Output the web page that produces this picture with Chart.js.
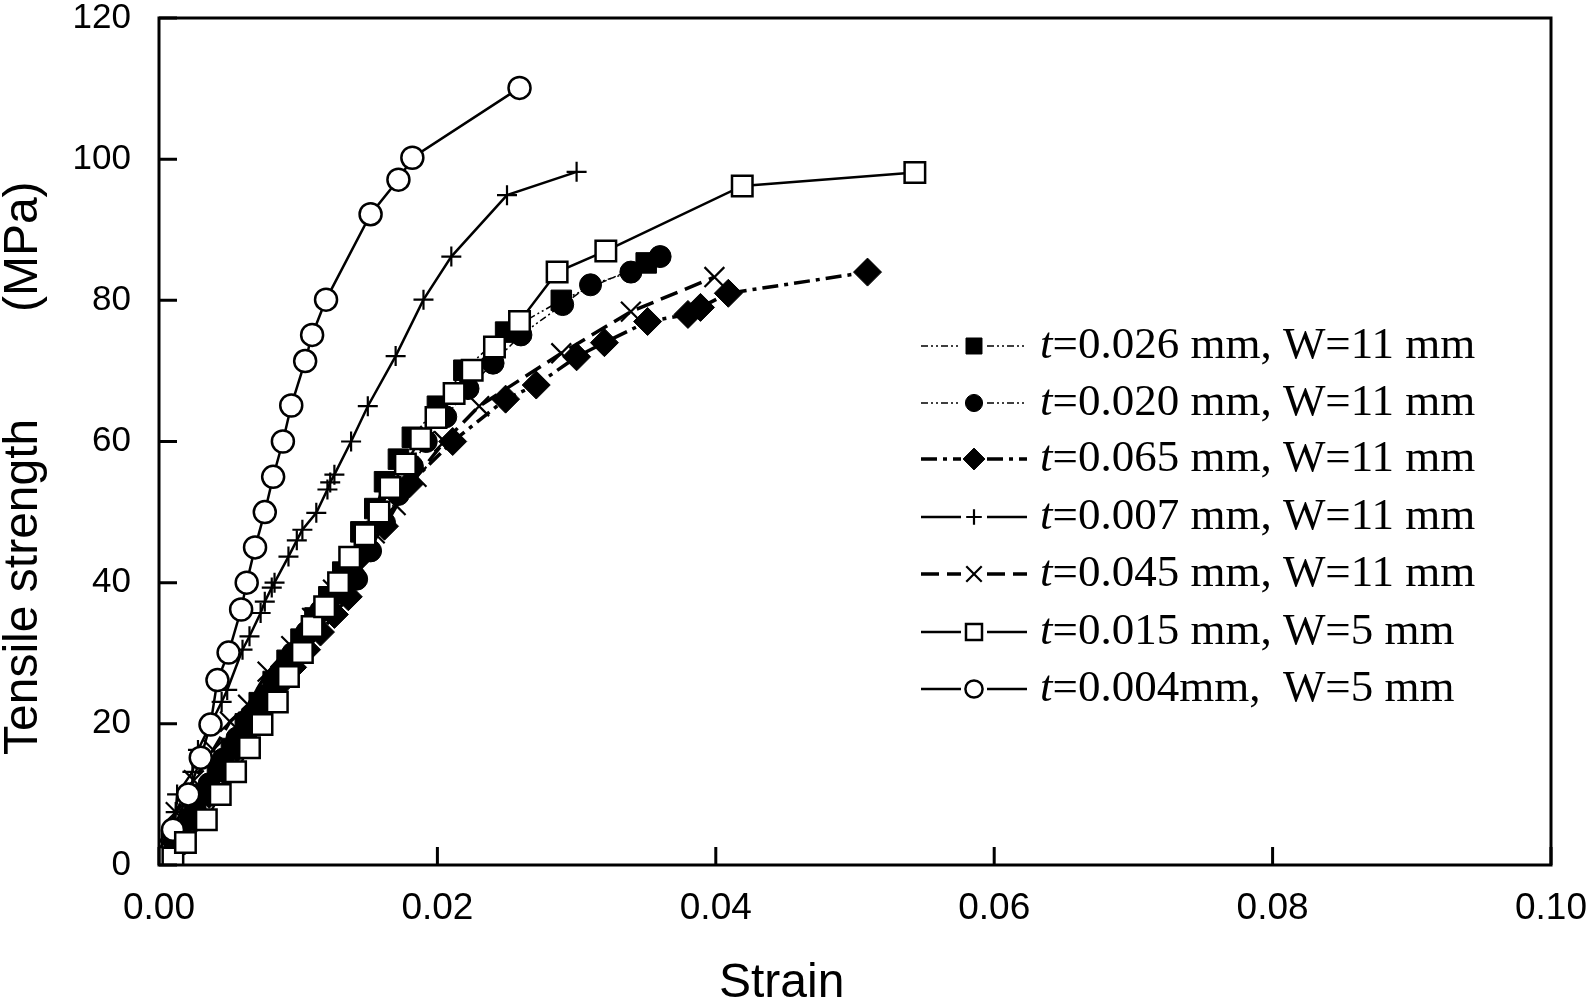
<!DOCTYPE html>
<html>
<head>
<meta charset="utf-8">
<script src="https://cdn.jsdelivr.net/npm/chart.js@4.4.1/dist/chart.umd.min.js"></script>
<style>
    html, body { margin: 0; padding: 0; background: #fff; }
    #wrap { width: 1587px; height: 1000px; }
</style>
</head>
<body>
<div id="wrap"><canvas id="chart" width="1587" height="1000"></canvas></div>
<script>
// legend text (after the italic "t")
const seriesLabels = [
    '=0.026 mm, W=11 mm',
    '=0.020 mm, W=11 mm',
    '=0.065 mm, W=11 mm',
    '=0.007 mm, W=11 mm',
    '=0.045 mm, W=11 mm',
    '=0.015 mm, W=5 mm',
    '=0.004mm,  W=5 mm'
];

// strain values and tensile strength (MPa)
const t026Strain = [0.0004, 0.0012, 0.0022, 0.0032, 0.0042, 0.0052, 0.0062, 0.0072, 0.0082, 0.0092, 0.0102, 0.0112, 0.0122, 0.0132, 0.0145, 0.0155, 0.0162, 0.0172, 0.0182, 0.0200, 0.0219, 0.0249, 0.0289, 0.0350];
const t026Stress = [0.5, 3, 6.5, 10, 13.3, 16.5, 20, 23, 26, 29, 32, 35, 38, 41.5, 47.2, 50.5, 54.3, 57.5, 60.6, 65, 70.1, 75.5, 80, 85.3];

const t020Strain = [0.0006, 0.0016, 0.0026, 0.0036, 0.0046, 0.0056, 0.0066, 0.0076, 0.0086, 0.0096, 0.0106, 0.0116, 0.0128, 0.0142, 0.0152, 0.0162, 0.0172, 0.0182, 0.0192, 0.0206, 0.0222, 0.0240, 0.0260, 0.0290, 0.0310, 0.0339, 0.0360];
const t020Stress = [1, 4.5, 8, 11.5, 15, 18, 21, 24, 27, 30, 33, 36, 38.5, 40.5, 44.5, 48.5, 52.5, 56.5, 60, 63.5, 67.5, 71.1, 75.1, 79.4, 82.2, 84, 86.2];

const t065Strain = [0.0008, 0.0016, 0.0026, 0.0036, 0.0046, 0.0056, 0.0066, 0.0076, 0.0086, 0.0096, 0.0106, 0.0116, 0.0126, 0.0136, 0.0146, 0.0162, 0.0180, 0.0211, 0.0249, 0.0271, 0.0300, 0.0320, 0.0351, 0.0380, 0.0389, 0.0409, 0.0509];
const t065Stress = [0, 3, 6.5, 10, 13.5, 16.5, 19.5, 22.5, 25.5, 28, 30.5, 33, 35.5, 38, 44, 48, 54, 60, 66, 68, 72, 74, 77, 78, 79, 81, 84];

const t007Strain = [0.0002, 0.0012, 0.0013, 0.0024, 0.0028, 0.0045, 0.0049, 0.0060, 0.0065, 0.0073, 0.0076, 0.0081, 0.0083, 0.0093, 0.0099, 0.0103, 0.0113, 0.0121, 0.0123, 0.0126, 0.0138, 0.0150, 0.0170, 0.0190, 0.0210, 0.0250, 0.0300];
const t007Stress = [3.6, 7.5, 10, 13.2, 16.3, 23.1, 24.8, 30.5, 32.4, 35.7, 37.3, 39.3, 40, 43.7, 46, 47.5, 49.9, 53.2, 54.2, 55.3, 60, 65, 72.1, 80.1, 86.2, 94.9, 98.2];

const t045Strain = [0.0003, 0.0012, 0.0025, 0.0039, 0.0051, 0.0064, 0.0078, 0.0095, 0.0110, 0.0125, 0.0140, 0.0155, 0.0170, 0.0185, 0.0205, 0.0230, 0.0289, 0.0339, 0.0399];
const t045Stress = [3, 7.5, 12, 16.3, 20.3, 22.7, 27.4, 31, 35, 39, 43, 47, 51, 55, 60, 65, 72.5, 78.4, 83.3];

const t015Strain = [0.0010, 0.0019, 0.0034, 0.0044, 0.0055, 0.0065, 0.0074, 0.0085, 0.0093, 0.0103, 0.0110, 0.0119, 0.0129, 0.0137, 0.0148, 0.0158, 0.0166, 0.0177, 0.0188, 0.0199, 0.0212, 0.0225, 0.0241, 0.0259, 0.0286, 0.0321, 0.0419, 0.0543];
const t015Stress = [1, 3.2, 6.4, 10, 13.2, 16.6, 19.9, 23.1, 26.7, 30.1, 33.8, 36.6, 40, 43.6, 46.8, 50, 53.5, 56.8, 60.4, 63.4, 66.8, 70.1, 73.4, 77, 84, 87, 96.2, 98.1];

const t004Strain = [0.0001, 0.0010, 0.0021, 0.0030, 0.0037, 0.0042, 0.0050, 0.0059, 0.0063, 0.0069, 0.0076, 0.0082, 0.0089, 0.0095, 0.0105, 0.0110, 0.0120, 0.0152, 0.0172, 0.0182, 0.0259];
const t004Stress = [1, 5, 10, 15.2, 19.9, 26.2, 30.1, 36.2, 40, 45, 50, 55, 60, 65.1, 71.4, 75.1, 80.1, 92.2, 97.1, 100.2, 110.1];

const xTicks = [0, 0.02, 0.04, 0.06, 0.08, 0.10];
const yTicks = [0, 20, 40, 60, 80, 100, 120];

const pts = (xs, ys) => xs.map((x, i) => ({ x: x, y: ys[i] }));

const dashDotDot = [7, 3, 2, 3, 2, 3];
const dashDot = [16, 6, 4, 6];
const dashLong = [18, 8];

const styles = [
    { pointStyle: 'rect', pointRadius: 14.5, fill: '#000', dash: dashDotDot, lw: 1.5, pbw: 1, order: 3 },
    { pointStyle: 'circle', pointRadius: 11, fill: '#000', dash: dashDotDot, lw: 1.5, pbw: 1, order: 4 },
    { pointStyle: 'rectRot', pointRadius: 14, fill: '#000', dash: dashDot, lw: 3.5, pbw: 1, order: 5 },
    { pointStyle: 'cross', pointRadius: 10, fill: '#fff', dash: [], lw: 2.5, pbw: 2.2, order: 1 },
    { pointStyle: 'crossRot', pointRadius: 14, fill: '#fff', dash: dashLong, lw: 3.5, pbw: 2.2, order: 2 },
    { pointStyle: 'rect', pointRadius: 14.5, fill: '#fff', dash: [], lw: 2.5, pbw: 2.5, order: 0 },
    { pointStyle: 'circle', pointRadius: 11, fill: '#fff', dash: [], lw: 2.5, pbw: 2.5, order: 0 }
];

const seriesData = [
    pts(t026Strain, t026Stress),
    pts(t020Strain, t020Stress),
    pts(t065Strain, t065Stress),
    pts(t007Strain, t007Stress),
    pts(t045Strain, t045Stress),
    pts(t015Strain, t015Stress),
    pts(t004Strain, t004Stress)
];

const datasets = seriesData.map((data, i) => {
    const s = styles[i];
    return {
        label: 't' + seriesLabels[i],
        data: data,
        showLine: true,
        borderColor: '#000',
        borderWidth: s.lw,
        borderDash: s.dash,
        pointStyle: s.pointStyle,
        pointRadius: s.pointRadius,
        pointBackgroundColor: s.fill,
        pointBorderColor: '#000',
        pointBorderWidth: s.pbw,
        order: s.order,
        tension: 0
    };
});

// frame round the plot and inward ticks
const framePlugin = {
    id: 'framePlugin',
    afterDatasetsDraw(chart) {
        const { ctx, chartArea: a, scales } = chart;
        ctx.save();
        ctx.strokeStyle = '#000';
        ctx.lineWidth = 3;
        ctx.setLineDash([]);
        ctx.strokeRect(a.left, a.top, a.right - a.left, a.bottom - a.top);
        ctx.beginPath();
        yTicks.forEach(v => {
            const y = scales.y.getPixelForValue(v);
            ctx.moveTo(a.left, y);
            ctx.lineTo(a.left + 18, y);
        });
        xTicks.forEach(v => {
            const x = scales.x.getPixelForValue(v);
            ctx.moveTo(x, a.bottom);
            ctx.lineTo(x, a.bottom - 18);
        });
        ctx.stroke();
        ctx.restore();
    }
};

// legend inside the plot with line samples
const legendPlugin = {
    id: 'legendPlugin',
    afterDraw(chart) {
        const ctx = chart.ctx;
        const rowY = [346, 403, 459, 517, 574, 632, 689];
        const lineL = 921, lineR = 1027, markX = 974, textX = 1040;
        ctx.save();
        styles.forEach((s, i) => {
            const y = rowY[i];
            ctx.strokeStyle = '#000';
            ctx.lineWidth = s.lw;
            ctx.setLineDash(s.dash);
            ctx.beginPath();
            ctx.moveTo(lineL, y);
            ctx.lineTo(markX - 13, y);
            ctx.moveTo(markX + 13, y);
            ctx.lineTo(lineR, y);
            ctx.stroke();
            ctx.setLineDash([]);
            ctx.fillStyle = s.fill;
            ctx.lineWidth = s.pbw;
            Chart.helpers.drawPoint(ctx, {
                pointStyle: s.pointStyle,
                radius: s.pointRadius * 0.78,
                rotation: 0,
                borderWidth: s.pbw
            }, markX, y);

            ctx.fillStyle = '#000';
            ctx.textBaseline = 'middle';
            ctx.textAlign = 'left';
            ctx.font = 'italic 45px "Liberation Serif", "Times New Roman", serif';
            ctx.fillText('t', textX, y);
            const w = ctx.measureText('t').width;
            ctx.font = '45px "Liberation Serif", "Times New Roman", serif';
            ctx.fillText(seriesLabels[i], textX + w, y);
        });
        ctx.restore();
    }
};

const sansFont = '"Liberation Sans", Arial, sans-serif';

new Chart(document.getElementById('chart'), {
    type: 'scatter',
    data: { datasets: datasets },
    options: {
        responsive: false,
        animation: false,
        layout: { padding: { left: 0, top: 18, right: 36, bottom: 0 } },
        plugins: {
            legend: { display: false },
            tooltip: { enabled: false }
        },
        scales: {
            x: {
                type: 'linear',
                min: 0,
                max: 0.1,
                afterBuildTicks: (scale) => { scale.ticks = xTicks.map(v => ({ value: v })); },
                afterFit: (scale) => {
                    scale.height = 135;
                    scale.paddingLeft = 0;
                    scale.paddingRight = 0;
                },
                grid: { display: false },
                border: { display: false },
                ticks: {
                    color: '#000',
                    padding: 14,
                    maxRotation: 0,
                    font: { family: sansFont, size: 37 },
                    callback: (v) => v.toFixed(2)
                },
                title: {
                    display: true,
                    // trailing spaces put the word left of centre, as in the source figure
                    text: 'Strain           ',
                    color: '#000',
                    font: { family: sansFont, size: 48, lineHeight: 0.6 },
                    padding: { top: 0, bottom: 2 }
                }
            },
            y: {
                type: 'linear',
                min: 0,
                max: 120,
                afterBuildTicks: (scale) => { scale.ticks = yTicks.map(v => ({ value: v })); },
                afterFit: (scale) => {
                    scale.width = 159;
                    scale.paddingTop = 0;
                    scale.paddingBottom = 0;
                },
                grid: { display: false },
                border: { display: false },
                ticks: {
                    color: '#000',
                    padding: 20,
                    font: { family: sansFont, size: 35 }
                },
                title: {
                    display: true,
                    text: 'Tensile strength        (MPa)    ',
                    color: '#000',
                    font: { family: sansFont, size: 48, lineHeight: 1 },
                    padding: { top: 0, bottom: 0 }
                }
            }
        }
    },
    plugins: [framePlugin, legendPlugin]
});
</script>
</body>
</html>
